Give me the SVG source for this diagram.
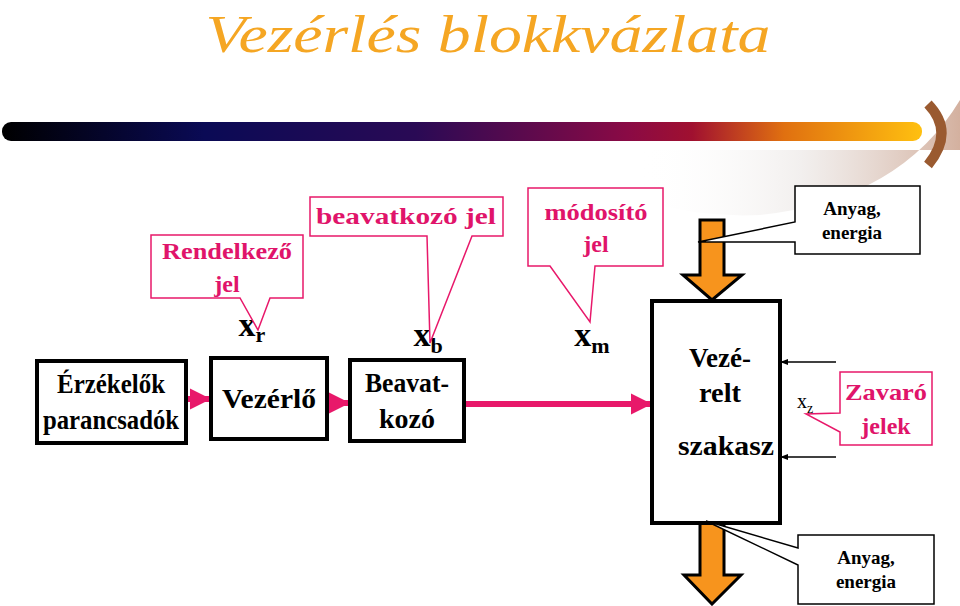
<svg xmlns="http://www.w3.org/2000/svg" width="960" height="606" viewBox="0 0 960 606">
<defs>
<linearGradient id="bar" x1="0" x2="1" y1="0" y2="0">
<stop offset="0" stop-color="#000000"/><stop offset="0.22" stop-color="#0a0a55"/><stop offset="0.45" stop-color="#2a0a55"/><stop offset="0.68" stop-color="#8a0a45"/><stop offset="0.75" stop-color="#a01030"/><stop offset="0.85" stop-color="#e07010"/><stop offset="1" stop-color="#ffc010"/>
</linearGradient>
<linearGradient id="glow" x1="0" x2="1" y1="0" y2="0">
<stop offset="0" stop-color="#ffffff" stop-opacity="0"/><stop offset="0.5" stop-color="#d8d0cc" stop-opacity="0.6"/><stop offset="1" stop-color="#b07050"/>
</linearGradient>
<marker id="pa" viewBox="0 0 10 10" refX="9" refY="5" markerWidth="3.6" markerHeight="3.6" orient="auto" markerUnits="strokeWidth"><path d="M0,0 L10,5 L0,10 z" fill="#e8186a"/></marker>
<marker id="ba" viewBox="0 0 10 10" refX="9" refY="5" markerWidth="8" markerHeight="8" orient="auto" markerUnits="userSpaceOnUse"><path d="M0,1 L10,5 L0,9 z" fill="#000"/></marker>
</defs>
<style>
text{font-family:"Liberation Serif","DejaVu Serif","Noto Serif","Times New Roman",serif;font-weight:bold;text-anchor:middle}
.box{fill:#fff;stroke:#000;stroke-width:4}
.call{fill:#fff;stroke:#e8186a;stroke-width:1.5}
.callb{fill:#fff;stroke:#000;stroke-width:1.5}
.pk{fill:#e0146a;font-size:24px}
.bt{font-size:27px;fill:#000}
.sm{font-size:19px;fill:#000}
.x{font-size:34px;fill:#000}
.sub{font-size:22px}
.pl{stroke:#e8186a;stroke-width:6;fill:none;marker-end:url(#pa)}
.or{fill:#f7941d;stroke:#000;stroke-width:3}
</style>
<path d="M640,150 H960 V100 Q900,200 760,215 Q700,218 640,200 Z" fill="url(#glow)" opacity="0.55"/>
<path d="M928,104 Q955,132 928,165" fill="none" stroke="#9a5a30" stroke-width="10"/>
<text x="488" y="52" style="font-style:italic;font-weight:normal;font-size:52px;fill:#f5a623" textLength="565" lengthAdjust="spacingAndGlyphs">Vezérlés blokkvázlata</text>
<rect x="2" y="122" width="920" height="19" rx="9" fill="url(#bar)"/>

<g id="connectors">
<line class="pl" x1="186" y1="399" x2="209" y2="399"/>
<line class="pl" x1="327" y1="403" x2="348" y2="403"/>
<line class="pl" x1="464" y1="404" x2="650" y2="404"/>
<line x1="836" y1="362" x2="781" y2="362" stroke="#000" stroke-width="1.5" marker-end="url(#ba)"/>
<line x1="836" y1="457" x2="781" y2="457" stroke="#000" stroke-width="1.5" marker-end="url(#ba)"/>
</g>

<g id="arrow-in"><path class="or" d="M700,220 H724 V275 H742 L712,300 L683,275 H700 Z"/></g>
<g id="arrow-out"><path class="or" d="M700,523 H724 V575 H741 L712,604 L684,575 H700 Z"/></g>

<g id="erzekelok"><rect class="box" x="37" y="361" width="149" height="82"/>
<text class="bt" x="111" y="393" textLength="108" lengthAdjust="spacingAndGlyphs">Érzékelők</text><text class="bt" x="111" y="429" textLength="136" lengthAdjust="spacingAndGlyphs">parancsadók</text></g>
<g id="vezerlo"><rect class="box" x="211" y="358" width="116" height="81"/>
<text class="bt" x="269" y="408" textLength="94" lengthAdjust="spacingAndGlyphs">Vezérlő</text></g>
<g id="beavatkozo"><rect class="box" x="350" y="360" width="114" height="81"/>
<text class="bt" x="407" y="392" textLength="84" lengthAdjust="spacingAndGlyphs">Beavat-</text><text class="bt" x="407" y="428" textLength="56" lengthAdjust="spacingAndGlyphs">kozó</text></g>
<g id="vezerelt"><rect class="box" x="652" y="301" width="128" height="222"/>
<text class="bt" x="720" y="367" textLength="62" lengthAdjust="spacingAndGlyphs">Vezé-</text><text class="bt" x="720" y="402" textLength="42" lengthAdjust="spacingAndGlyphs">relt</text><text class="bt" x="726" y="455" textLength="96" lengthAdjust="spacingAndGlyphs">szakasz</text></g>

<g id="xr"><text class="x" x="252" y="336">x<tspan class="sub" dy="6">r</tspan></text></g>
<g id="xb"><text class="x" x="428" y="346">x<tspan class="sub" dy="7">b</tspan></text></g>
<g id="xm"><text class="x" x="592" y="346">x<tspan class="sub" dy="7">m</tspan></text></g>

<g id="rendelkezo"><path class="call" d="M151,235 H303 V298 H270 L258,330 L240,298 H151 Z"/>
<text class="pk" x="227" y="259" textLength="130" lengthAdjust="spacingAndGlyphs">Rendelkező</text><text class="pk" x="227" y="292">jel</text></g>
<g id="beavatkozo-jel"><path class="call" d="M310,197 H503 V236 H472 L430,343 L427,236 H310 Z"/>
<text class="pk" x="406" y="224" textLength="180" lengthAdjust="spacingAndGlyphs">beavatkozó jel</text></g>
<g id="modosito"><path class="call" d="M528,188 H663 V266 H595 L590,322 L550,266 H528 Z"/>
<text class="pk" x="596" y="220" textLength="103" lengthAdjust="spacingAndGlyphs">módosító</text><text class="pk" x="596" y="252">jel</text></g>
<g id="anyag-be"><path class="callb" d="M795,186 H920 V254 H795 V242 L698,242 L795,222 Z"/>
<text class="sm" x="852" y="215">Anyag,</text><text class="sm" x="852" y="239">energia</text></g>
<g id="anyag-ki"><path class="callb" d="M798,535 H934 V604 H798 V565 L706,521 L798,548 Z"/>
<text class="sm" x="866" y="564">Anyag,</text><text class="sm" x="866" y="588">energia</text></g>
<g id="zavaro"><path class="call" d="M840,372 H932 V445 H840 V432 L806,414 L840,413 Z"/>
<text class="pk" x="886" y="400" textLength="82" lengthAdjust="spacingAndGlyphs">Zavaró</text><text class="pk" x="886" y="434">jelek</text></g>
<g id="xz"><text x="805" y="408" style="font-weight:normal;font-size:20px">x<tspan font-size="14" dy="5">z</tspan></text></g>
</svg>
